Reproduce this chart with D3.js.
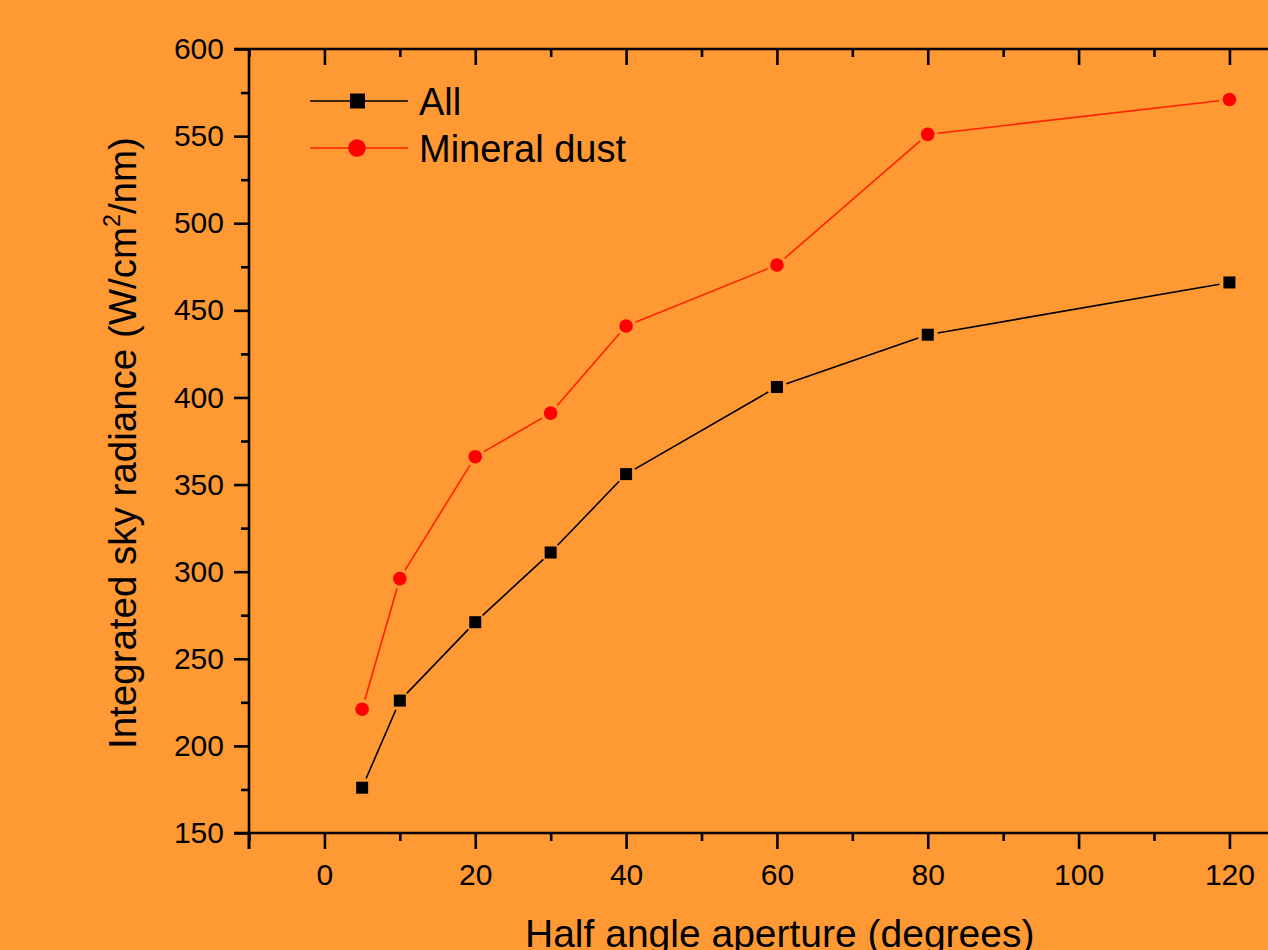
<!DOCTYPE html>
<html>
<head>
<meta charset="utf-8">
<script src="https://cdn.jsdelivr.net/npm/d3@7"></script>
<style>
  html, body { margin: 0; padding: 0; background: #FF9933; overflow: hidden; }
  svg { display: block; }
  text { font-family: "Liberation Sans", Arial, sans-serif; fill: #000; }
</style>
</head>
<body>
<svg id="chart" width="1268" height="950"></svg>
<script>
// ---- Data ----
const apertures = [5, 10, 20, 30, 40, 60, 80, 120];
const allValues = [176, 226, 271, 311, 356, 406, 436, 466];
const dustValues = [221, 296, 366, 391, 441, 476, 551, 571];
const seriesNames = ["All", "Mineral dust"];
const xTickLabels = [0, 20, 40, 60, 80, 100, 120];
const yTickLabels = [150, 200, 250, 300, 350, 400, 450, 500, 550, 600];

(function () {
const W = 1268, H = 950;
const svg = d3.select("#chart");
svg.append("rect").attr("width", W).attr("height", H).attr("fill", "#FF9933");

const pLeft = 249, pTop = 49, pBottom = 833;
const x = d3.scaleLinear().domain([-10, 130]).range([pLeft, pLeft + 140 * 7.5417]);
const y = d3.scaleLinear().domain([150, 600]).range([pBottom, pTop]);
const pRight = x(130);

const axisColor = "#000";

// Bottom axis
const xMinor = d3.range(-10, 131, 10).filter(v => v % 20 !== 0);
const gB = svg.append("g").attr("transform", `translate(0,${pBottom})`);
gB.call(d3.axisBottom(x).tickValues(xTickLabels).tickSize(16).tickPadding(15).tickFormat(d3.format("d")));
gB.append("g").call(d3.axisBottom(x).tickValues(xMinor).tickSize(8).tickFormat(""));
gB.append("line").attr("x1", x(-10)).attr("x2", x(-10)).attr("y1", 0).attr("y2", 16);

// Top axis (inward ticks)
const gT = svg.append("g").attr("transform", `translate(0,${pTop})`);
gT.call(d3.axisBottom(x).tickValues(xTickLabels).tickSize(16).tickFormat(""));
gT.append("g").call(d3.axisBottom(x).tickValues(xMinor).tickSize(8).tickFormat(""));

// Left axis
const yMinor = d3.range(175, 600, 50);
const gL = svg.append("g").attr("transform", `translate(${pLeft},0)`);
gL.call(d3.axisLeft(y).tickValues(yTickLabels).tickSize(15).tickPadding(10).tickFormat(d3.format("d")));
gL.append("g").call(d3.axisLeft(y).tickValues(yMinor).tickSize(8).tickFormat(""));

svg.selectAll(".domain").remove();
svg.selectAll(".tick line").attr("stroke", axisColor).attr("stroke-width", 2.6);
gB.selectAll("line").attr("stroke", axisColor).attr("stroke-width", 2.6);
svg.selectAll(".tick text").style("font-size", "30px").attr("fill", "#000")
  .style("font-family", "'Liberation Sans', Arial, sans-serif");

svg.append("line").attr("x1", pLeft - 15).attr("x2", pRight).attr("y1", pBottom).attr("y2", pBottom)
  .attr("stroke", axisColor).attr("stroke-width", 2.6);
svg.append("line").attr("x1", pLeft - 15).attr("x2", pRight).attr("y1", pTop).attr("y2", pTop)
  .attr("stroke", axisColor).attr("stroke-width", 2.6);
svg.append("line").attr("x1", pLeft).attr("x2", pLeft).attr("y1", pTop).attr("y2", pBottom + 16)
  .attr("stroke", axisColor).attr("stroke-width", 2.6);

// Lines with gaps near markers
function gapSegments(xs, ys, gap) {
  const segs = [];
  for (let i = 0; i < xs.length - 1; i++) {
    const x1 = x(xs[i]), y1 = y(ys[i]), x2 = x(xs[i + 1]), y2 = y(ys[i + 1]);
    const dx = x2 - x1, dy = y2 - y1, L = Math.hypot(dx, dy);
    if (L <= 2 * gap) continue;
    const ux = dx / L, uy = dy / L;
    segs.push([x1 + ux * gap, y1 + uy * gap, x2 - ux * gap, y2 - uy * gap]);
  }
  return segs;
}

function drawSeries(vals, lineColor, markerColor, shape) {
  const g = svg.append("g");
  g.selectAll("line.seg").data(gapSegments(apertures, vals, 10)).join("line")
    .attr("x1", d => d[0]).attr("y1", d => d[1]).attr("x2", d => d[2]).attr("y2", d => d[3])
    .attr("stroke", lineColor).attr("stroke-width", 1.6);
  const pts = apertures.map((a, i) => [a, vals[i]]);
  if (shape === "square") {
    g.selectAll("rect.m").data(pts).join("rect")
      .attr("x", d => x(d[0]) - 6).attr("y", d => y(d[1]) - 6)
      .attr("width", 12).attr("height", 12).attr("fill", markerColor);
  } else {
    g.selectAll("circle.m").data(pts).join("circle")
      .attr("cx", d => x(d[0])).attr("cy", d => y(d[1])).attr("r", 6.8).attr("fill", markerColor);
  }
}
drawSeries(allValues, "#000", "#000", "square");
drawSeries(dustValues, "#FF2200", "#FF0000", "circle");

// Legend
const leg = svg.append("g");
const legItems = [
  { name: seriesNames[0], y: 101, line: "#000", marker: "#000", shape: "square" },
  { name: seriesNames[1], y: 148, line: "#FF2200", marker: "#FF0000", shape: "circle" }
];
legItems.forEach(it => {
  leg.append("line").attr("x1", 310).attr("x2", 408).attr("y1", it.y).attr("y2", it.y)
    .attr("stroke", it.line).attr("stroke-width", 1.6);
  if (it.shape === "square") {
    leg.append("rect").attr("x", 350).attr("y", it.y - 7.5).attr("width", 15).attr("height", 15).attr("fill", it.marker);
  } else {
    leg.append("circle").attr("cx", 357).attr("cy", it.y).attr("r", 8.8).attr("fill", it.marker);
  }
  leg.append("text").attr("x", 419).attr("y", it.y + 14).style("font-size", "38px").text(it.name);
});

// Axis titles
svg.append("text").attr("x", 525).attr("y", 947).style("font-size", "39px")
  .text("Half angle aperture (degrees)");

const yt = svg.append("text").attr("transform", "translate(136,749) rotate(-90)")
  .style("font-size", "38.5px");
yt.append("tspan").text("Integrated sky radiance (W/cm");
yt.append("tspan").attr("dy", -16).style("font-size", "23px").text("2");
yt.append("tspan").attr("dy", 16).text("/nm)");
})();
</script>
</body>
</html>
